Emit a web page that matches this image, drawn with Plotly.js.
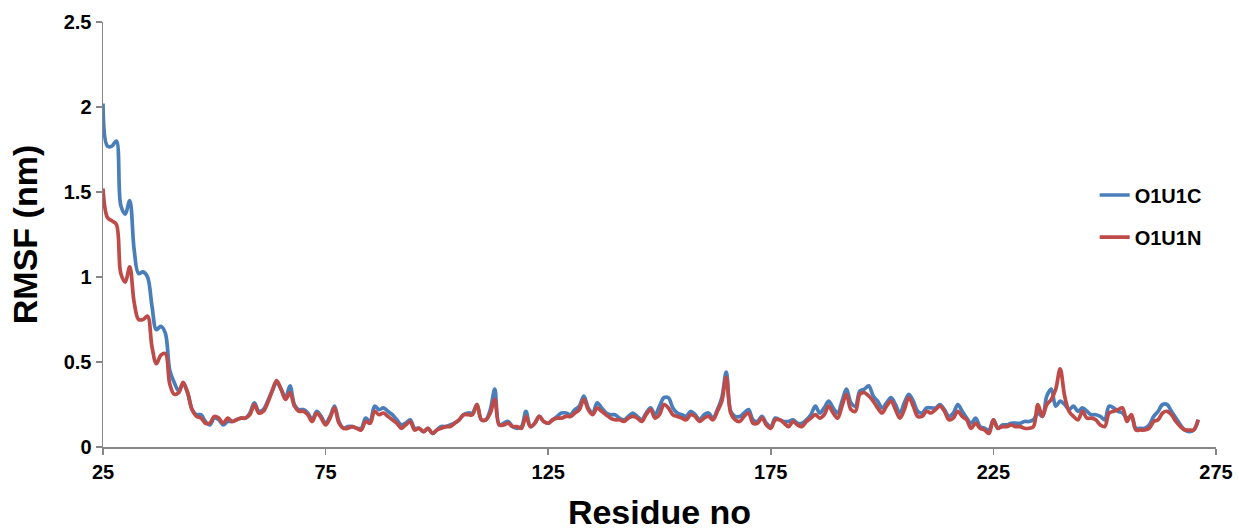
<!DOCTYPE html>
<html>
<head>
<meta charset="utf-8">
<script src="https://cdn.plot.ly/plotly-3.0.1.min.js"></script>
<style>html,body{margin:0;padding:0;background:#fff;}#chart{width:1239px;height:531px;}</style>
</head>
<body>
<div id="chart"></div>
<script>
const residues = [25,26,27,28,29,30,31,32,33,34,35,36,37,38,39,40,41,42,43,44,45,46,47,48,49,50,51,52,53,54,55,56,57,58,59,60,61,62,63,64,65,66,67,68,69,70,71,72,73,74,75,76,77,78,79,80,81,82,83,84,85,86,87,88,89,90,91,92,93,94,95,96,97,98,99,100,101,102,103,104,105,106,107,108,109,110,111,112,113,114,115,116,117,118,119,120,121,122,123,124,125,126,127,128,129,130,131,132,133,134,135,136,137,138,139,140,141,142,143,144,145,146,147,148,149,150,151,152,153,154,155,156,157,158,159,160,161,162,163,164,165,166,167,168,169,170,171,172,173,174,175,176,177,178,179,180,181,182,183,184,185,186,187,188,189,190,191,192,193,194,195,196,197,198,199,200,201,202,203,204,205,206,207,208,209,210,211,212,213,214,215,216,217,218,219,220,221,222,223,224,225,226,227,228,229,230,231,232,233,234,235,236,237,238,239,240,241,242,243,244,245,246,247,248,249,250,251,252,253,254,255,256,257,258,259,260,261,262,263,264,265,266,267,268,269,270,271];

const o1u1c = [2.02,1.77,1.77,1.80,1.42,1.37,1.45,1.16,1.02,1.03,1.00,0.83,0.69,0.71,0.67,0.45,0.38,0.33,0.37,0.32,0.22,0.19,0.19,0.15,0.13,0.17,0.16,0.13,0.15,0.15,0.16,0.17,0.17,0.20,0.26,0.21,0.22,0.27,0.33,0.38,0.34,0.29,0.36,0.25,0.22,0.22,0.20,0.16,0.21,0.18,0.14,0.18,0.24,0.15,0.11,0.12,0.12,0.11,0.11,0.17,0.15,0.24,0.22,0.23,0.21,0.19,0.16,0.13,0.14,0.16,0.11,0.11,0.09,0.11,0.08,0.10,0.12,0.12,0.13,0.14,0.16,0.19,0.20,0.20,0.25,0.16,0.16,0.22,0.34,0.13,0.14,0.15,0.12,0.11,0.12,0.21,0.12,0.14,0.18,0.15,0.14,0.16,0.18,0.20,0.20,0.19,0.22,0.24,0.30,0.23,0.20,0.26,0.23,0.20,0.19,0.19,0.17,0.16,0.18,0.20,0.18,0.16,0.20,0.23,0.19,0.24,0.29,0.29,0.23,0.20,0.19,0.18,0.21,0.19,0.16,0.19,0.20,0.17,0.22,0.29,0.44,0.21,0.18,0.18,0.20,0.22,0.16,0.15,0.18,0.14,0.12,0.17,0.16,0.15,0.15,0.16,0.14,0.14,0.16,0.19,0.24,0.20,0.23,0.27,0.23,0.20,0.27,0.34,0.26,0.24,0.33,0.34,0.36,0.30,0.27,0.23,0.26,0.29,0.25,0.20,0.26,0.31,0.27,0.21,0.20,0.23,0.23,0.23,0.25,0.22,0.18,0.20,0.25,0.21,0.17,0.14,0.17,0.12,0.11,0.10,0.16,0.11,0.13,0.13,0.14,0.14,0.14,0.15,0.15,0.16,0.20,0.18,0.30,0.34,0.24,0.27,0.25,0.22,0.24,0.21,0.23,0.21,0.19,0.19,0.18,0.16,0.24,0.23,0.21,0.20,0.17,0.18,0.11,0.11,0.11,0.13,0.18,0.21,0.25,0.25,0.21,0.17,0.13,0.10,0.09,0.10,0.16];

const o1u1n = [1.52,1.35,1.33,1.31,1.02,0.97,1.06,0.85,0.75,0.75,0.77,0.59,0.49,0.54,0.55,0.37,0.31,0.32,0.38,0.32,0.22,0.18,0.17,0.14,0.14,0.18,0.17,0.14,0.17,0.15,0.16,0.17,0.17,0.19,0.25,0.20,0.21,0.26,0.33,0.39,0.34,0.28,0.32,0.24,0.21,0.21,0.19,0.15,0.20,0.17,0.13,0.17,0.23,0.14,0.11,0.11,0.12,0.11,0.10,0.15,0.14,0.21,0.19,0.20,0.18,0.16,0.14,0.11,0.13,0.15,0.10,0.11,0.09,0.11,0.08,0.10,0.11,0.12,0.12,0.14,0.16,0.19,0.19,0.19,0.25,0.16,0.16,0.20,0.28,0.13,0.13,0.14,0.12,0.12,0.11,0.18,0.12,0.14,0.18,0.15,0.14,0.16,0.17,0.17,0.18,0.18,0.20,0.22,0.28,0.22,0.19,0.23,0.21,0.19,0.17,0.16,0.16,0.15,0.17,0.18,0.17,0.15,0.19,0.22,0.17,0.19,0.25,0.23,0.19,0.18,0.17,0.16,0.19,0.18,0.15,0.17,0.18,0.16,0.21,0.27,0.41,0.20,0.16,0.15,0.18,0.20,0.14,0.14,0.17,0.13,0.11,0.16,0.16,0.14,0.12,0.15,0.13,0.12,0.15,0.17,0.19,0.17,0.19,0.24,0.20,0.17,0.24,0.31,0.22,0.21,0.31,0.32,0.30,0.27,0.23,0.20,0.24,0.27,0.22,0.17,0.22,0.29,0.24,0.18,0.18,0.21,0.20,0.22,0.24,0.21,0.16,0.17,0.21,0.18,0.16,0.11,0.14,0.11,0.10,0.08,0.16,0.11,0.12,0.12,0.13,0.12,0.12,0.11,0.11,0.12,0.25,0.18,0.25,0.28,0.34,0.46,0.30,0.21,0.18,0.16,0.21,0.17,0.17,0.16,0.13,0.12,0.20,0.21,0.22,0.23,0.15,0.19,0.10,0.10,0.10,0.11,0.15,0.16,0.20,0.21,0.19,0.15,0.12,0.10,0.10,0.10,0.16];

const xTicks = [25,75,125,175,225,275];
const yTicks = [0,0.5,1,1.5,2,2.5];

const font = {family: 'Liberation Sans, Arial, sans-serif', color: '#000'};

const traces = [
  {x: residues, y: o1u1c, type: 'scatter', mode: 'lines', name: 'O1U1C',
   line: {color: '#4A7EBB', width: 3.7, shape: 'spline', smoothing: 1}, legend: 'legend'},
  {x: residues, y: o1u1n, type: 'scatter', mode: 'lines', name: 'O1U1N',
   line: {color: '#BE4B48', width: 3.7, shape: 'spline', smoothing: 1}, legend: 'legend2'}
];

const legendBase = {
  xanchor: 'left', yanchor: 'middle', bgcolor: 'rgba(0,0,0,0)',
  font: {family: font.family, size: 20, color: '#000', weight: 'bold'}
};

const layout = {
  width: 1239, height: 531,
  margin: {l: 103, r: 23, t: 22, b: 84},
  paper_bgcolor: '#fff', plot_bgcolor: '#fff',
  showlegend: true,
  legend: Object.assign({x: 0.891, y: 0.593}, legendBase),
  legend2: Object.assign({x: 0.891, y: 0.494}, legendBase),
  xaxis: {
    range: [25, 275], tickvals: xTicks, ticktext: xTicks.map(String),
    showgrid: false, zeroline: false, showline: true, linecolor: '#868686', linewidth: 1.5,
    ticks: 'outside', ticklen: 6, tickcolor: '#868686', tickwidth: 1.5,
    tickfont: {family: font.family, size: 20, color: '#000', weight: 'bold'},
    title: {text: 'Residue no', standoff: 24,
            font: {family: font.family, size: 34, color: '#000', weight: 'bold'}},
    automargin: false
  },
  yaxis: {
    range: [0, 2.5], tickvals: yTicks, ticktext: yTicks.map(String),
    showgrid: false, zeroline: false, showline: true, linecolor: '#868686', linewidth: 1.5,
    ticks: 'outside', ticklen: 6, tickcolor: '#868686', tickwidth: 1.5,
    tickfont: {family: font.family, size: 20, color: '#000', weight: 'bold'},
    title: {text: 'RMSF (nm)', standoff: 16,
            font: {family: font.family, size: 34, color: '#000', weight: 'bold'}},
    automargin: false
  }
};

Plotly.newPlot('chart', traces, layout, {displayModeBar: false, staticPlot: true});
</script>
</body>
</html>
